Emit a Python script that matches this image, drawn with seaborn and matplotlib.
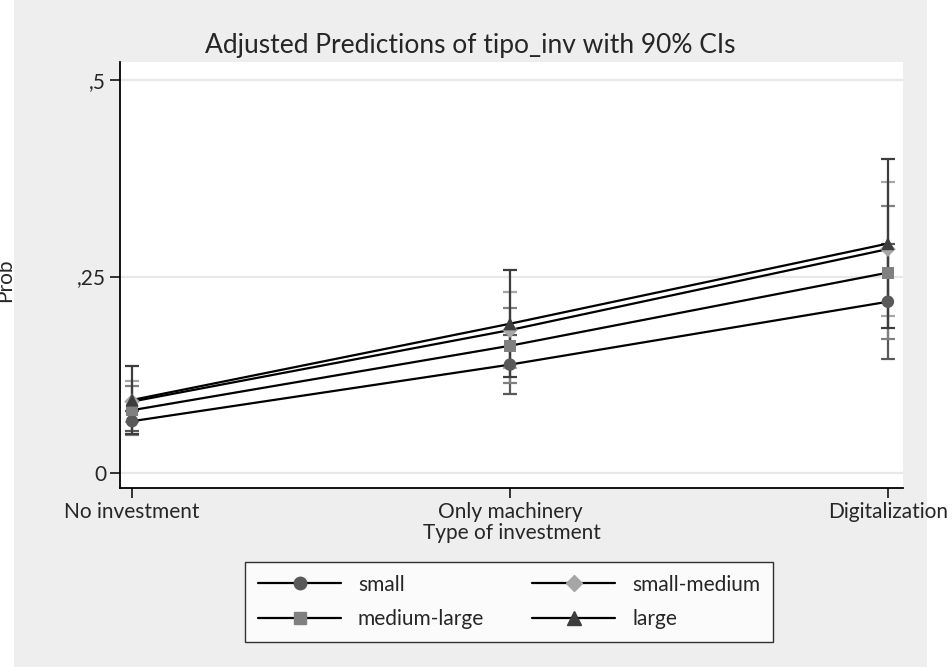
import numpy as np
import pandas as pd
import matplotlib
matplotlib.use("Agg")
import matplotlib.pyplot as plt
from matplotlib.lines import Line2D
from matplotlib.patches import Rectangle
import seaborn as sns

# Categories on the x axis and the four firm-size groups
categories = ["No investment", "Only machinery", "Digitalization"]
sizes = ["small", "small-medium", "medium-large", "large"]

# Adjusted predictions (margins) and their 90% confidence limits
margin_small = [0.066, 0.138, 0.218]
margin_small_medium = [0.091, 0.182, 0.285]
margin_medium_large = [0.080, 0.162, 0.255]
margin_large = [0.093, 0.190, 0.292]

lo_small = [0.053, 0.100, 0.145]
lo_small_medium = [0.065, 0.134, 0.200]
lo_medium_large = [0.049, 0.114, 0.170]
lo_large = [0.050, 0.122, 0.184]

hi_small = [0.079, 0.176, 0.291]
hi_small_medium = [0.117, 0.230, 0.370]
hi_medium_large = [0.111, 0.210, 0.340]
hi_large = [0.136, 0.258, 0.400]

ytick_values = [0, 0.25, 0.5]
ytick_labels = ["0", ",25", ",5"]

margins = [margin_small, margin_small_medium, margin_medium_large, margin_large]
lows = [lo_small, lo_small_medium, lo_medium_large, lo_large]
highs = [hi_small, hi_small_medium, hi_medium_large, hi_large]

rows = []
for s, m, lo, hi in zip(sizes, margins, lows, highs):
    for i, c in enumerate(categories):
        rows.append({"size": s, "category": c, "pos": i,
                     "margin": m[i], "lo": lo[i], "hi": hi[i]})
df = pd.DataFrame(rows)

colors = {"small": "#595959", "small-medium": "#a6a6a6",
          "medium-large": "#808080", "large": "#3d3d3d"}
markers = {"small": "o", "small-medium": "D", "medium-large": "s", "large": "^"}
msizes = {"small": 9, "small-medium": 8, "medium-large": 8.5, "large": 9.5}

sns.set_theme(style="white")
plt.rcParams["font.family"] = ["Lato", "DejaVu Sans"]

fig = plt.figure(figsize=(9.53, 6.67), dpi=100, facecolor="white")
fig.patches.append(Rectangle((14 / 953, 0), 913 / 953, 1, transform=fig.transFigure,
                             facecolor="#eeeeee", edgecolor="none", zorder=-10))

ax = fig.add_axes([120 / 953, 1 - 488 / 667, 783 / 953, 426 / 667])
ax.set_facecolor("white")

# grid lines
for v in ytick_values:
    ax.axhline(v, color="#e8e8e8", lw=1.6, zorder=0)

# confidence intervals (capped bars)
for s in sizes:
    d = df[df["size"] == s]
    ax.errorbar(d["pos"], d["margin"],
                yerr=[d["margin"] - d["lo"], d["hi"] - d["margin"]],
                fmt="none", ecolor=colors[s], elinewidth=1.6,
                capsize=5, capthick=1.6, zorder=1)

# connecting lines
sns.lineplot(data=df, x="pos", y="margin", hue="size", hue_order=sizes,
             palette={s: "black" for s in sizes}, lw=1.6, legend=False,
             ax=ax, zorder=2)

# point estimates
for s in sizes:
    d = df[df["size"] == s]
    sns.scatterplot(x=d["pos"], y=d["margin"], marker=markers[s],
                    color=colors[s], s=msizes[s] ** 2, edgecolor="none",
                    legend=False, ax=ax, zorder=3)

ax.set_xlim(-0.032, 2.04)
ax.set_ylim(-0.019, 0.523)
ax.set_xticks(range(len(categories)))
ax.set_xticklabels(categories, fontsize=15)
ax.set_yticks(ytick_values)
ax.set_yticklabels(ytick_labels, fontsize=15)
ax.set_xlabel("Type of investment", fontsize=15, labelpad=1)
ax.set_ylabel("")
ax.tick_params(axis="both", direction="out", length=7, width=1.1,
               color="black", bottom=True, left=True, pad=3)
for side in ["top", "right"]:
    ax.spines[side].set_visible(False)
for side in ["left", "bottom"]:
    ax.spines[side].set_color("black")
    ax.spines[side].set_linewidth(1.3)

fig.text(470 / 953, 1 - 45 / 667, "Adjusted Predictions of tipo_inv with 90% CIs",
         ha="center", va="center", fontsize=19)

fig.text(15 / 953, 1 - 280 / 667, "Prob", rotation=90, ha="right", va="center",
         fontsize=15)

# legend filled row by row: small, small-medium / medium-large, large
legend_order = ["small", "medium-large", "small-medium", "large"]
handles = [Line2D([], [], color="black", lw=1.6, marker=markers[s],
                  markerfacecolor=colors[s], markeredgecolor=colors[s],
                  markersize=msizes[s]) for s in legend_order]
leg = fig.legend(handles, legend_order, loc="center", ncol=2,
                 bbox_to_anchor=(509 / 953, 1 - 602 / 667),
                 fontsize=15, frameon=True, fancybox=False, handlelength=4.0,
                 columnspacing=2.3, handletextpad=0.8, borderpad=0.6,
                 labelspacing=0.7)
leg.get_frame().set_edgecolor("black")
leg.get_frame().set_linewidth(1.0)
leg.get_frame().set_facecolor("white")

fig.savefig("out.png", dpi=100, facecolor="white")
